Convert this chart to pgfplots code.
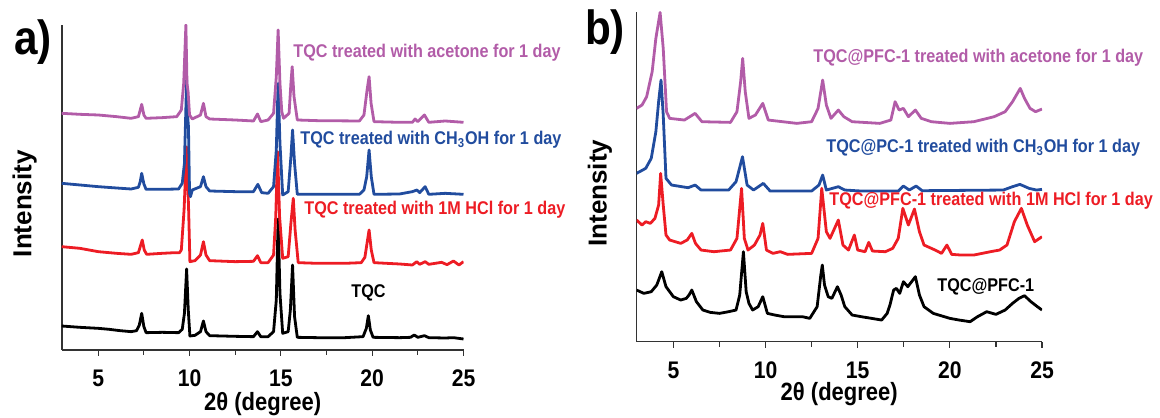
\documentclass[border=0pt]{standalone}
\usepackage{fontspec}
\setmainfont{Liberation Sans}[FakeStretch=0.88]
\newfontfamily\widefont{Liberation Sans}
\usepackage{pgfplots}
\pgfplotsset{compat=1.18}
\definecolor{cpurple}{RGB}{178,92,168}
\definecolor{cblue}{RGB}{33,76,158}
\definecolor{cred}{RGB}{237,28,36}

\pgfplotstableread{
x y
3.0 72
4.0 68
5.0 65
5.6 62
6.2 58
6.8 55
7.1 58
7.25 75
7.38 110
7.5 70
7.62 52
8.5 53
9.4 52
9.6 62
9.72 110
9.84 243
9.93 120
10.02 42
10.3 44
10.6 55
10.76 87
10.9 55
11.1 43
12.5 41
13.5 40
13.72 55
13.9 40
14.3 40
14.6 55
14.75 150
14.85 393
14.95 170
15.1 50
15.4 55
15.52 120
15.64 255
15.75 100
15.9 38
17 37
18.5 37
19.5 40
19.68 65
19.79 103
19.9 60
20.05 38
21.5 37
22.1 38
22.3 45
22.5 38
22.86 43
23.1 37
24 36
24.45 37
25 33
}\aBlack

\pgfplotstableread{
x y
3.0 310
4.0 305
5.0 295
6.0 290
6.8 287
7.2 292
7.3 310
7.41 330
7.52 300
7.65 287
8.5 290
9.2 292
9.45 292
9.55 300
9.7 420
9.84 609
9.95 420
10.02 265
10.3 268
10.6 285
10.76 325
10.9 285
11.1 268
12.5 265
13.5 266
13.72 283
13.9 262
14.3 262
14.6 285
14.72 400
14.82 595
14.93 400
15.1 275
15.4 280
15.55 380
15.68 455
15.78 360
15.95 262
17 260
18.5 260
19.4 262
19.6 278
19.83 360
19.95 300
20.1 262
21.5 258
22.2 255
22.44 265
22.6 257
22.9 265
23.1 257
23.8 263
24.1 256
24.45 267
24.75 255
25.0 265
}\aRed

\pgfplotstableread{
x y
3.0 500
4.0 495
5.0 490
6.0 486
6.8 483
7.2 488
7.3 505
7.38 530
7.5 498
7.62 482
8.5 482
9.4 483
9.6 500
9.72 560
9.84 810
9.9 700
9.94 670
10.0 470
10.05 460
10.15 480
10.6 490
10.76 520
10.9 490
11.1 477
12.5 475
13.5 475
13.74 497
13.95 472
14.3 470
14.6 490
14.75 600
14.85 800
14.95 620
15.1 465
15.4 475
15.55 580
15.64 660
15.75 560
15.9 467
17 467
19.3 467
19.55 480
19.7 520
19.83 600
19.95 520
20.1 467
21.5 468
22.2 475
22.45 480
22.6 472
22.9 490
23.1 467
24 470
25 467
}\aBlue

\pgfplotstableread{
x y
3.0 710
4.0 707
5.0 705
6.0 700
6.8 695
7.2 700
7.3 720
7.38 737
7.5 705
7.62 695
8.5 697
9.3 700
9.55 720
9.68 800
9.8 975
9.86 800
9.92 775
10.0 705
10.15 693
10.6 705
10.76 740
10.9 700
11.1 693
12.5 690
13.5 687
13.72 708
13.9 685
14.3 690
14.6 710
14.75 820
14.85 960
14.95 800
15.05 715
15.15 695
15.45 710
15.55 800
15.62 850
15.72 760
15.9 690
17 688
19.3 687
19.55 705
19.72 780
19.83 820
19.94 740
20.1 685
21.5 683
22.2 683
22.35 693
22.5 685
22.86 705
23.1 683
24 687
25 683
}\aPurple

\pgfplotstableread{
x y
3.0 155
3.4 145
3.8 150
4.1 170
4.37 210
4.6 165
5.0 135
5.4 125
5.7 130
5.85 140
6.0 155
6.25 120
6.6 95
7.0 88
7.5 85
8.0 90
8.4 95
8.6 140
8.8 270
8.95 150
9.1 115
9.3 95
9.6 105
9.85 135
10.1 85
10.5 80
11.0 75
12.0 75
12.4 70
12.8 105
13.0 200
13.08 230
13.2 170
13.4 135
13.6 130
13.9 165
14.1 140
14.3 105
14.7 80
15.2 75
16.3 65
16.6 85
16.75 110
16.95 155
17.1 160
17.28 145
17.48 180
17.72 165
18.13 195
18.35 140
18.6 105
19.1 85
20.0 70
20.5 65
21.1 60
21.5 75
22.0 90
22.5 82
23.0 95
23.4 115
23.75 130
24.05 138
24.4 120
24.75 105
25.0 95
}\bBlack

\pgfplotstableread{
x y
3.0 365
3.3 350
3.5 360
3.75 355
4.0 370
4.2 410
4.31 505
4.45 410
4.6 320
4.8 305
5.4 295
5.75 305
6.0 325
6.2 295
6.5 275
7.2 270
8.1 275
8.45 310
8.7 460
8.85 310
9.05 275
9.4 290
9.7 320
9.85 355
10.05 275
10.4 265
10.8 270
11.2 262
12.5 265
12.85 310
13.05 460
13.3 330
13.5 310
13.95 365
14.2 290
14.5 275
14.82 320
15.0 275
15.4 270
15.6 298
15.8 272
16.5 270
16.9 280
17.2 310
17.45 400
17.75 350
18.08 398
18.35 330
18.6 290
19.2 275
19.55 265
19.84 290
20.1 262
20.6 260
21.3 260
22.2 270
22.7 275
23.1 290
23.5 360
23.88 400
24.2 350
24.6 300
25.0 315
}\bRed

\pgfplotstableread{
x y
3.0 505
3.5 520
3.8 550
4.05 630
4.2 720
4.33 785
4.45 680
4.6 490
4.9 470
5.8 462
6.18 470
6.5 455
8.0 455
8.4 480
8.75 555
9.0 470
9.35 455
9.88 475
10.25 452
12.5 452
12.9 470
13.1 500
13.3 455
13.95 465
14.3 455
15.2 452
17.2 452
17.48 467
17.8 455
18.17 467
18.5 453
22.9 455
23.4 465
23.8 472
24.3 460
24.7 455
25.0 457
}\bBlue

\pgfplotstableread{
x y
3.0 700
3.3 710
3.55 735
3.85 810
4.05 910
4.28 988
4.45 880
4.63 690
4.8 670
5.6 665
6.18 685
6.55 660
8.1 658
8.45 690
8.65 780
8.76 850
8.9 750
9.1 670
9.45 680
9.85 715
10.15 665
11.7 655
12.5 660
12.85 700
13.1 785
13.3 710
13.55 670
13.95 695
14.25 675
14.7 660
16.2 655
16.8 665
17.03 720
17.25 695
17.48 700
17.75 675
18.13 695
18.45 670
19.0 660
20.0 655
21.3 660
22.4 675
23.0 690
23.4 720
23.82 760
24.05 730
24.35 700
24.65 690
25.0 698
}\bPurple

\pgfplotsset{
  xrd/.style={
    scale only axis, anchor=south west,
    xmin=3, xmax=25, ymin=0,
    axis x line*=bottom, axis y line*=left,
    axis line style={-, line width=0.8pt, black!80},
    xtick={5,10,15,20,25}, minor xtick={7.5,12.5,17.5,22.5},
    ytick=\empty,
    tick align=outside, major tick length=3pt, minor tick length=2.5pt,
    tick style={line width=0.6pt, black!80},
    ticklabel style={font=\bfseries\fontsize{12}{14}\selectfont},
    xticklabel style={yshift=-3.5pt},
    /pgf/number format/assume math mode=true,
    xlabel={2θ (degree)}, ylabel={Intensity},
    xlabel style={font=\bfseries\fontsize{12.5}{14}\selectfont, at={(axis description cs:0.5,0)}, anchor=center},
    ylabel style={font=\widefont\bfseries\fontsize{13}{15}\selectfont, at={(axis description cs:0,0.45)}, anchor=center, rotate=0},
    every axis plot/.append style={line width=1.4pt, line join=round, mark=none},
  }
}

\begin{document}
\begin{tikzpicture}[x=0.5pt,y=0.5pt]
\useasboundingbox (0,0) rectangle (1160,417);
\begin{axis}[xrd, at={(30.85pt,33.5pt)}, width=200.9pt, height=162.5pt, ymax=975,
  xlabel style={yshift=-27pt}, ylabel style={xshift=0pt, yshift=18.5pt}]
\addplot[black] table {\aBlack};
\addplot[cred] table {\aRed};
\addplot[cblue] table {\aBlue};
\addplot[cpurple] table {\aPurple};
\end{axis}
\begin{axis}[xrd, at={(318.25pt,37.65pt)}, width=202.75pt, height=165pt, ymax=990,
  xlabel style={yshift=-26pt}, ylabel style={yshift=18.3pt}]
\addplot[black] table {\bBlack};
\addplot[cred] table {\bRed};
\addplot[cblue] table {\bBlue};
\addplot[cpurple] table {\bPurple};
\end{axis}
\node[font=\bfseries\fontsize{24}{26}\selectfont] at (33,375) {a)};
\node[font=\bfseries\fontsize{24}{26}\selectfont] at (605,385) {b)};
\begin{scope}[every node/.style={anchor=west, inner sep=0pt, font=\bfseries\fontsize{9.2}{11}\selectfont}]
\node[text=cpurple] at (293,364) {TQC treated with acetone for 1 day};
\node[text=cblue] at (300,277) {TQC treated with CH\textsubscript{3}OH for 1 day};
\node[text=cred] at (304,207) {TQC treated with 1M HCl for 1 day};
\node[text=black] at (351,124) {TQC};
\node[text=cpurple] at (813,359) {TQC@PFC-1 treated with acetone for 1 day};
\node[text=cblue] at (826,269) {TQC@PC-1 treated with CH\textsubscript{3}OH for 1 day};
\node[text=cred] at (829,216) {TQC@PFC-1 treated with 1M HCl for 1 day};
\node[text=black] at (937,130) {TQC@PFC-1};
\end{scope}
\end{tikzpicture}
\end{document}
